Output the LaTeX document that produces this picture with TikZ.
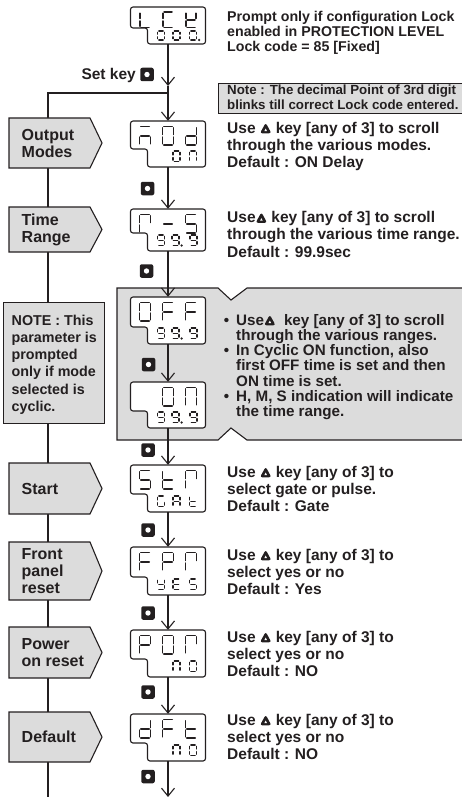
\documentclass[tikz,border=0pt]{standalone}
\usepackage{fontspec}
\setmainfont{Liberation Sans}
\usetikzlibrary{arrows.meta}
\definecolor{boxgray}{HTML}{DCDCDC}
\definecolor{ink}{HTML}{231F20}

\tikzset{
  conn/.style={draw=ink, line width=1.1pt},
  arr/.style={conn, -{Straight Barb[length=8pt,width=13pt]}},
  graybox/.style={draw=ink, fill=boxgray, line width=1.1pt},
  dispframe/.style={draw=ink, fill=white, line width=1.1pt, rounded corners=2.5pt},
  seg/.style={draw=ink, line width=1.6pt, line cap=round},
  segsmall/.style={draw=ink, line width=1.15pt, line cap=round},
  keybtn/.style={fill=ink, rounded corners=2pt, minimum size=13.5pt, inner sep=0pt,
    path picture={\fill[white] (path picture bounding box.center) circle[radius=2.7pt];}},
  rtxt/.style={font=\fontsize{15.5}{17.4}\selectfont\bfseries, align=left, inner sep=0pt, anchor=base west, text=ink},
  toptxt/.style={font=\fontsize{14.2}{15}\selectfont\bfseries, align=left, inner sep=0pt, anchor=base west, text=ink},
  notebtxt/.style={font=\fontsize{13.3}{15}\selectfont\bfseries, align=left, inner sep=0pt, anchor=base west, text=ink},
  bultxt/.style={font=\fontsize{15.2}{15.3}\selectfont\bfseries, align=left, inner sep=0pt, anchor=base west, text=ink},
  lbltxt/.style={font=\fontsize{16}{17}\selectfont\bfseries, align=left, inner sep=0pt, anchor=west, text=ink},
  notetxt/.style={font=\fontsize{14.3}{17.3}\selectfont\bfseries, align=left, inner sep=0pt, anchor=base west, text=ink},
}

\newcommand\upkey{\tikz[baseline=0pt,x=1pt,y=1pt]{\fill[ink,rounded corners=2.4pt] (0,-0.3) -- (11.5,-0.3) -- (5.75,10.2) -- cycle; \fill[white] (4.5,2.0) -- (7.0,2.0) -- (5.75,4.4) -- cycle;}}
\newcommand\bul{\llap{\textbullet\hspace{7pt}}}

\def\gG{1.3}
\expandafter\def\csname segXa\endcsname{({\gL+\gG},\gT) -- ({\gR-\gG},\gT)}
\expandafter\def\csname segXb\endcsname{(\gR,{\gT+\gG}) -- (\gR,{\gM-\gG})}
\expandafter\def\csname segXc\endcsname{(\gR,{\gM+\gG}) -- (\gR,{\gB-\gG})}
\expandafter\def\csname segXd\endcsname{({\gL+\gG},\gB) -- ({\gR-\gG},\gB)}
\expandafter\def\csname segXe\endcsname{(\gL,{\gM+\gG}) -- (\gL,{\gB-\gG})}
\expandafter\def\csname segXf\endcsname{(\gL,{\gT+\gG}) -- (\gL,{\gM-\gG})}
\expandafter\def\csname segXg\endcsname{({\gL+\gG},\gM) -- ({\gR-\gG},\gM)}
\expandafter\def\csname segXp\endcsname{({\gR+2.6},\gB) circle[radius=0.45]}

% #1 style, #2 centre x, #3 top y, #4 width, #5 height, #6 segments
\newcommand\glyph[6]{%
  \pgfmathsetmacro\gL{#2-#4/2}%
  \pgfmathsetmacro\gR{#2+#4/2}%
  \pgfmathsetmacro\gT{#3}%
  \pgfmathsetmacro\gB{#3+#5}%
  \pgfmathsetmacro\gM{#3+#5/2}%
  \edef\seglist{#6}%
  \foreach \s in \seglist {%
    \expandafter\let\expandafter\segcur\csname segX\s\endcsname
    \path[#1] \segcur;%
  }%
}
% top-row char: column x, display top, segments
\newcommand\tg[3]{\glyph{seg}{#1}{#2+5.5}{11}{18.5}{#3}}
% bottom-row char: column x, display bottom, segments
\newcommand\bg[3]{\glyph{segsmall}{#1}{#2-16}{7}{10.5}{#3}}

\def\Zero{a,b,c,d,e,f}
\def\Nine{a,b,c,d,f,g}
\def\NineP{a,b,c,d,f,g,p}
\def\ZeroP{a,b,c,d,e,f,p}
\def\Lc{d,e,f}
\def\Cc{a,d,e,f}
\def\Kc{b,d,e,f,g}
\def\Mc{a,c,e,g}
\def\Dc{b,c,d,e,g}
\def\Nc{a,b,c,e,f}
\def\Rc{a,b,e,f}
\def\Minus{g}
\def\Sc{a,c,d,f,g}
\def\Fc{a,e,f,g}
\def\Tc{d,e,f,g}
\def\Gc{a,c,d,e,f}
\def\Ac{a,b,c,e,f,g}
\def\Pc{a,b,e,f,g}
\def\Yc{b,c,d,f,g}
\def\Ec{a,d,e,f,g}

% display frame: name, top, bottom, notch y
\newcommand\disp[4]{%
  \path[dispframe] (130.5,#2) -- (205.5,#2) -- (205.5,#3) -- (147.5,#3) -- (147.5,#4) -- (130.5,#4) -- cycle;
  \node[inner sep=0pt, minimum width=75pt, minimum height={(#3-#2)*1pt}] (#1) at (168,{(#2+#3)/2}) {};
}
% pentagon label box: name, top, bottom, text
\newcommand\pent[4]{%
  \path[graybox] (9,#2) -- (90,#2) -- (102,{(#2+#3)/2}) -- (90,#3) -- (9,#3) -- cycle;
  \node[lbltxt] (#1) at (21.5,{(#2+#3)/2}) {#4};
}

\begin{document}
\begin{tikzpicture}[x=1pt,y=-1pt]
\useasboundingbox (0,0) rectangle (461,797);

% spine on the left
\coordinate (j) at (168,93);
\coordinate (lb) at (48,797);
\coordinate (a1) at (168,86);
\coordinate (endpt) at (168,797);
\draw[conn] (j) -| (lb);

% label boxes
\pent{lmodes}{118}{168}{Output\\Modes}
\pent{lrange}{207}{252}{Time\\Range}
\pent{lstart}{463}{514}{Start}
\pent{lfpr}{542}{600}{Front\\panel\\reset}
\pent{lpor}{627}{678}{Power\\on reset}
\pent{ldft}{712}{762}{Default}

% note box on the left
\node[draw=ink, fill=boxgray, line width=1.1pt, anchor=north west, minimum width=101pt, minimum height=121pt, inner sep=0pt] (notel) at (3,302) {};
\node[notetxt] (notetext) at (11.5,411.5) {NOTE : This\\parameter is\\prompted\\only if mode\\selected is\\cyclic.};

% big grey panel
\path[graybox] (117,288) -- (218,288) -- (231,300) -- (247,288) -- (466,288) -- (466,440) -- (247,440) -- (231,428) -- (218,440) -- (117,440) -- cycle;

% displays
\disp{lck}{7}{44}{28}
\disp{mod}{121}{167}{149}
\disp{rs}{209}{251}{233}
\disp{off}{297}{344}{327}
\disp{on}{382}{428}{411}
\disp{stm}{465}{512}{494}
\disp{fpr}{547}{595}{577}
\disp{por}{630}{677}{659}
\disp{dft}{714}{761}{743}

% display characters
\glyph{seg}{145}{12}{10.5}{15.5}{\Lc}
\glyph{seg}{168}{12}{10.5}{15.5}{\Cc}
\glyph{seg}{191}{12}{10.5}{15.5}{\Kc}
\glyph{segsmall}{161}{31}{7}{9}{\Zero}
\glyph{segsmall}{176.5}{31}{7}{9}{\Zero}
\glyph{segsmall}{193}{31}{7}{9}{\ZeroP}

\tg{145}{121}{\Mc}\tg{168}{121}{\Zero}\tg{191}{121}{\Dc}
\bg{176.5}{167}{\Zero}\bg{193}{167}{\Nc}

\tg{145}{209}{\Rc}\tg{168}{209}{\Minus}\tg{191}{209}{\Sc}
\bg{161}{251}{\Nine}\bg{175.5}{251}{\NineP}\bg{193.5}{251}{\Nine}

\tg{145}{297}{\Zero}\tg{168}{297}{\Fc}\tg{191}{297}{\Fc}
\bg{161}{344}{\Nine}\bg{175.5}{344}{\NineP}\bg{193.5}{344}{\Nine}

\tg{168}{382}{\Zero}\tg{191}{382}{\Nc}
\bg{161}{428}{\Nine}\bg{175.5}{428}{\NineP}\bg{193.5}{428}{\Nine}

\tg{145}{465}{\Sc}\tg{168}{465}{\Tc}\tg{191}{465}{\Rc}
\bg{161}{512}{\Gc}\bg{176.5}{512}{\Ac}\bg{193}{512}{\Tc}

\tg{145}{547}{\Fc}\tg{168}{547}{\Pc}\tg{191}{547}{\Rc}
\bg{161}{595}{\Yc}\bg{176.5}{595}{\Ec}\bg{193}{595}{\Sc}

\tg{145}{630}{\Pc}\tg{168}{630}{\Zero}\tg{191}{630}{\Rc}
\bg{176.5}{677}{\Nc}\bg{193}{677}{\Zero}

\tg{145}{714}{\Dc}\tg{168}{714}{\Fc}\tg{191}{714}{\Tc}
\bg{176.5}{761}{\Nc}\bg{193}{761}{\Zero}

% connectors
\draw[arr] (lck.south) -- (a1);
\draw[conn] (a1) -- (j);
\draw[arr] (j) -- (mod.north);
\draw[arr] (mod.south) -- (rs.north);
\draw[arr] (rs.south) -- (off.north);
\draw[arr] (off.south) -- (on.north);
\draw[arr] (on.south) -- (stm.north);
\draw[arr] (stm.south) -- (fpr.north);
\draw[arr] (fpr.south) -- (por.north);
\draw[arr] (por.south) -- (dft.north);
\draw[arr] (dft.south) -- (endpt);

% set keys
\node[keybtn] (kset) at (147,74.5) {};
\node[font=\fontsize{15.5}{17}\selectfont\bfseries, text=ink, inner sep=0pt, anchor=base east] (setlbl) at (136,79.5) {Set key};
\node[keybtn] (k1) at (147.5,188.5) {};
\node[keybtn] (k2) at (146.5,271) {};
\node[keybtn] (k3) at (148.5,364.5) {};
\node[keybtn] (k4) at (148,450) {};
\node[keybtn] (k5) at (148,530) {};
\node[keybtn] (k6) at (148,613) {};
\node[keybtn] (k7) at (148,692) {};
\node[keybtn] (k8) at (148,776.5) {};

% texts on the right (anchor = baseline of the last line)
\node[toptxt] (prompt) at (227,52) {Prompt only if configuration Lock\\enabled in PROTECTION LEVEL\\Lock code = 85 [Fixed]};
\node[draw=ink, fill=boxgray, line width=1.1pt, anchor=north west, minimum width=250pt, minimum height=30pt, inner sep=0pt] (notebox) at (218,83) {};
\node[notebtxt] (notetop) at (227,109.5) {Note : The decimal Point of 3rd digit\\blinks till correct Lock code entered.};

\node[rtxt] (tmod) at (227,167.8) {Use \upkey\ key [any of 3] to scroll\\through the various modes.\\Default : ON Delay};
\node[rtxt] (trs) at (227,257.3) {Use\upkey\ key [any of 3] to scroll\\through the various time range.\\Default : 99.9sec};
\node[bultxt] (tcyc) at (236,416.8) {\bul Use\upkey\ \ key [any of 3] to scroll\\through the various ranges.\\\bul In Cyclic ON function, also\\first OFF time is set and then\\ON time is set.\\\bul H, M, S indication will indicate\\the time range.};
\node[rtxt] (tstm) at (227,511.8) {Use \upkey\ key [any of 3] to\\select gate or pulse.\\Default : Gate};
\node[rtxt] (tfpr) at (227,594.8) {Use \upkey\ key [any of 3] to\\select yes or no\\Default : Yes};
\node[rtxt] (tpor) at (227,676.8) {Use \upkey\ key [any of 3] to\\select yes or no\\Default : NO};
\node[rtxt] (tdft) at (227,759.8) {Use \upkey\ key [any of 3] to\\select yes or no\\Default : NO};
\end{tikzpicture}
\end{document}
